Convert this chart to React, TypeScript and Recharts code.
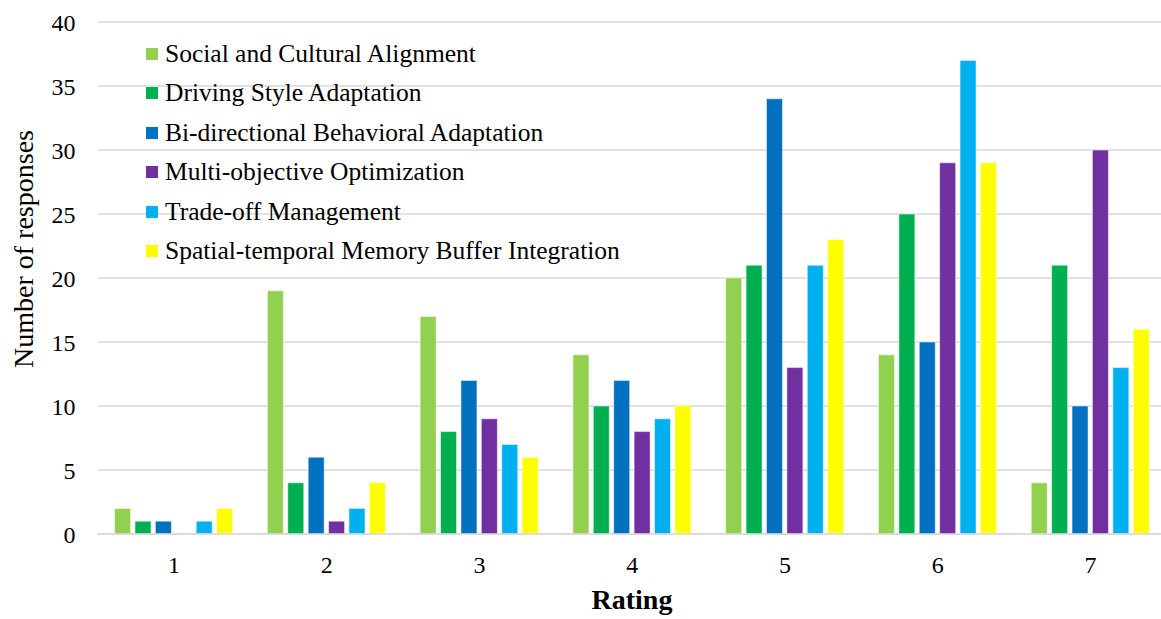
import React from 'react';
import { BarChart, Bar, XAxis, YAxis, CartesianGrid } from 'recharts';

const ratings = ['1', '2', '3', '4', '5', '6', '7'];
const yTicks = [0, 5, 10, 15, 20, 25, 30, 35, 40];

const social = [2, 19, 17, 14, 20, 14, 4];
const driving = [1, 4, 8, 10, 21, 25, 21];
const bidirectional = [1, 6, 12, 12, 34, 15, 10];
const multiObjective = [0, 1, 9, 8, 13, 29, 30];
const tradeOff = [1, 2, 7, 9, 21, 37, 13];
const spatialTemporal = [2, 4, 6, 10, 23, 29, 16];

const series = [
  { key: 'social', name: 'Social and Cultural Alignment', color: '#92D050', values: social },
  { key: 'driving', name: 'Driving Style Adaptation', color: '#00B050', values: driving },
  { key: 'bidir', name: 'Bi-directional Behavioral Adaptation', color: '#0070C0', values: bidirectional },
  { key: 'multi', name: 'Multi-objective Optimization', color: '#7030A0', values: multiObjective },
  { key: 'trade', name: 'Trade-off Management', color: '#00B0F0', values: tradeOff },
  { key: 'spatial', name: 'Spatial-temporal Memory Buffer Integration', color: '#FFFF00', values: spatialTemporal },
];

const data = ratings.map((r, i) => {
  const row: Record<string, string | number> = { rating: r };
  series.forEach((s) => {
    row[s.key] = s.values[i];
  });
  return row;
});

const FONT = '"Liberation Serif", "Times New Roman", serif';

// legend sits inside the plot, top-left, like the Excel original
const ChartLegend = () => (
  <div style={{ position: 'absolute', top: 34, left: 146, fontFamily: FONT, fontSize: 25.5, color: '#000' }}>
    {series.map((s) => (
      <div key={s.key} style={{ display: 'flex', alignItems: 'center', height: 39.5 }}>
        <span style={{ width: 12, height: 12, background: s.color, marginRight: 7, display: 'inline-block' }} />
        <span style={{ whiteSpace: 'nowrap' }}>{s.name}</span>
      </div>
    ))}
  </div>
);

const YLabel = () => (
  <text
    x={33}
    y={249}
    transform="rotate(-90, 33, 249)"
    textAnchor="middle"
    fontFamily={FONT}
    fontSize={28}
    fill="#000"
  >
    Number of responses
  </text>
);

const XLabel = () => (
  <text x={632} y={609} textAnchor="middle" fontFamily={FONT} fontSize={28} fontWeight="bold" fill="#000">
    Rating
  </text>
);

export default function App() {
  return (
    <div style={{ width: 1161, height: 619, overflow: 'hidden', background: '#fff', position: 'relative' }}>
      <style>{`body{margin:0}`}</style>
      <BarChart
        width={1170}
        height={619}
        data={data}
        margin={{ top: 22, right: 3, left: 0, bottom: 0 }}
        barSize={16}
        barGap={4.4}
      >
        <CartesianGrid vertical={false} stroke="#D9D9D9" strokeWidth={1.5} />
        <XAxis
          dataKey="rating"
          height={85}
          axisLine={{ stroke: '#D9D9D9', strokeWidth: 1.5 }}
          tickLine={false}
          tickSize={0}
          tickMargin={22}
          tick={{ fontFamily: FONT, fontSize: 24, fill: '#000' }}
          label={<XLabel />}
        />
        <YAxis
          width={97.6}
          domain={[0, 40]}
          ticks={yTicks}
          interval={0}
          axisLine={false}
          tickLine={false}
          tickSize={0}
          tickMargin={22}
          tick={{ fontFamily: FONT, fontSize: 24, fill: '#000' }}
          label={<YLabel />}
        />
        {series.map((s) => (
          <Bar key={s.key} dataKey={s.key} name={s.name} fill={s.color} stroke="#ffffff" strokeOpacity={0.5} isAnimationActive={false} />
        ))}
      </BarChart>
      <ChartLegend />
    </div>
  );
}
